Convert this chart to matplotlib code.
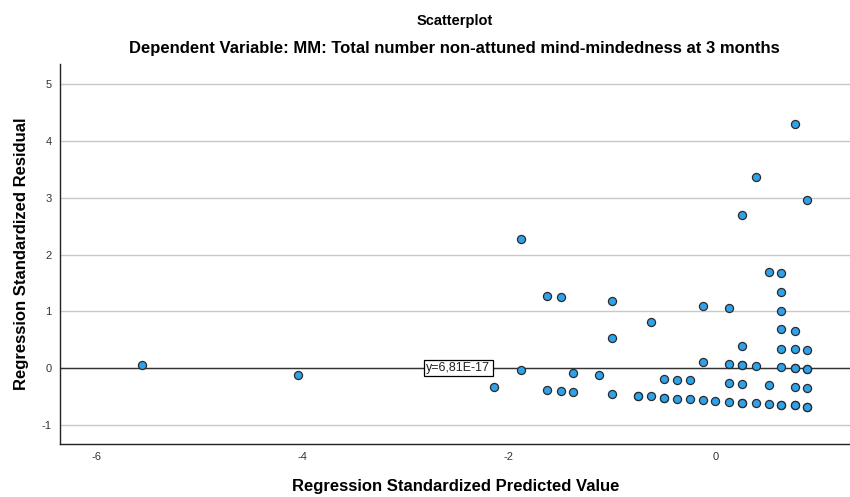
import matplotlib
matplotlib.use("Agg")
import matplotlib.pyplot as plt

plt.rcParams['font.family'] = ['Liberation Sans', 'DejaVu Sans']
plt.rcParams['axes.unicode_minus'] = False

# predicted value (standardized) and residual (standardized)
pred = [-5.56, -4.04, -2.14, -1.88, -1.88, -1.63, -1.50, -1.63, -1.50, -1.38,
        -1.38, -1.13, -1.00, -1.00, -1.00, -0.75, -0.75, -0.62, -0.62, -0.50,
        -0.37, -0.25, -0.50, -0.50, -0.37, -0.25, -0.12, -0.12, -0.12, 0.00,
        0.13, 0.13, 0.13, 0.13, 0.26, 0.26, 0.26, 0.26, 0.26, 0.26,
        0.26, 0.39, 0.39, 0.39, 0.52, 0.52, 0.52, 0.64, 0.64, 0.64,
        0.64, 0.64, 0.64, 0.64, 0.64, 0.77, 0.77, 0.77, 0.77, 0.77,
        0.77, 0.77, 0.77, 0.89, 0.89, 0.89, 0.89, 0.89, 0.89, 0.89]
resid = [0.06, -0.12, -0.34, 2.28, -0.03, 1.27, 1.26, -0.39, -0.41, -0.42,
         -0.09, -0.12, 1.19, 0.53, -0.46, -0.49, -0.49, 0.82, -0.50, -0.19,
         -0.21, -0.22, -0.52, -0.52, -0.54, -0.55, 1.10, 0.10, -0.57, -0.59,
         1.06, 0.07, -0.26, -0.60, 2.70, 0.39, 0.06, 0.06, -0.28, -0.61,
         -0.61, 3.36, 0.04, -0.62, 1.69, -0.30, -0.63, 1.68, 1.34, 1.01,
         0.68, 0.34, 0.01, -0.65, -0.65, 4.31, 0.66, 0.33, 0.00, 0.00,
         -0.34, -0.66, -0.66, 2.97, 0.32, -0.01, -0.01, -0.35, -0.68, -0.68]

fit_line = 6.81e-17
fit_label = "y=6,81E-17"
yticks = [-1, 0, 1, 2, 3, 4, 5]
xticks = [-6, -4, -2, 0]

fig = plt.figure(figsize=(8.5, 4.97), dpi=100)
ax = fig.add_axes([0.0706, 0.1066, 0.93, 0.7646])

for t in yticks:
    ax.axhline(t, color='#c8c8c8', lw=1.0, zorder=1)
ax.axhline(fit_line, color='#333333', lw=1.0, zorder=2)

ax.scatter(pred, resid, s=34, c='#2ea2ea', edgecolors='#2b2b2b',
           linewidths=0.9, zorder=3)

ax.text(-2.49, fit_line, fit_label, ha='center', va='center', fontsize=9,
        color='#222222', zorder=4,
        bbox=dict(boxstyle='square,pad=0.18', fc='white', ec='black', lw=0.9))

ax.set_xlim(-6.35, 1.31)
ax.set_ylim(-1.34, 5.36)
ax.set_xticks(xticks)
ax.set_yticks(yticks)
ax.tick_params(length=0, labelsize=8, labelcolor='#333333', pad=6)
for side in ['top', 'right']:
    ax.spines[side].set_visible(False)
for side in ['left', 'bottom']:
    ax.spines[side].set_color('#222222')
    ax.spines[side].set_linewidth(1.0)

ax.set_xlabel('Regression Standardized Predicted Value', fontsize=12,
              fontweight='bold', labelpad=12)
ax.set_ylabel('Regression Standardized Residual', fontsize=12,
              fontweight='bold', labelpad=9)

fig.text(0.535, 0.958, 'Scatterplot', ha='center', va='center',
         fontsize=10.5, fontweight='bold')
fig.text(0.535, 0.903, 'Dependent Variable: MM: Total number non-attuned mind-mindedness at 3 months',
         ha='center', va='center', fontsize=12, fontweight='bold')

fig.savefig('out.png', dpi=100)
